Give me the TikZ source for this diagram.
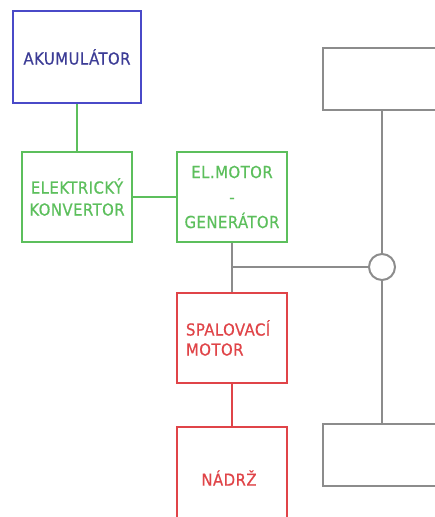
\documentclass[tikz,border=0pt]{standalone}
\usepackage{fontspec}
\setmainfont{DejaVu Sans Condensed}
\newfontfamily\blokfont[FakeBold=0.6, LetterSpace=3]{DejaVu Sans Condensed}
\definecolor{akublue}{HTML}{4A4AC8}
\definecolor{akutext}{HTML}{3C3C96}
\definecolor{elgreen}{HTML}{5CBF5C}
\definecolor{spalred}{HTML}{E04448}
\definecolor{osagray}{HTML}{8C8C8C}
\tikzset{
	blok/.style={draw, line width=2pt, fill=white, inner sep=0pt,
		minimum width=110pt, minimum height=90pt, font=\blokfont\fontsize{16.5}{22}\selectfont},
	osa/.style={draw=osagray, line width=2pt}
}
\begin{document}
\begin{tikzpicture}[x=1pt, y=-1pt]
	
	\useasboundingbox (0,0) rectangle (435,517);
	\clip (0,0) rectangle (435,517);
	
	%% ELECTRIC PART
	% Battery
	\node [blok, draw=akublue, text=akutext, minimum width=128pt, minimum height=92pt] (akum) at (77,57) {AKUMULÁTOR};
	% Converter
	\node [blok, draw=elgreen, text=elgreen, align=center] (konv) at (77,197) {ELEKTRICKÝ\\KONVERTOR};
	% Motor - generator
	\node [blok, draw=elgreen, text=elgreen, align=center, font=\blokfont\fontsize{16.5}{25}\selectfont] (motor) at (232,197) {EL.MOTOR\\-\\GENERÁTOR};
	
	%% COMBUSTION PART
	% Engine
	\node [blok, draw=spalred, text=spalred, align=left, font=\blokfont\fontsize{16.5}{20}\selectfont, text width=92pt] (spal) at (232,338) {SPALOVACÍ\\MOTOR};
	% Tank
	\node [blok, draw=spalred, text=spalred, minimum height=100pt] (nadrz) at (232,477) {};
	\node [text=spalred, font=\blokfont\fontsize{16.5}{20}\selectfont] (nadrzt) at (229,478) {NÁDRŽ};
	
	% Links
	\draw [elgreen, line width=2pt] (akum.south) -- (konv.north);
	\draw [elgreen, line width=2pt] (konv.east) -- (motor.west);
	\draw [osa] (motor.south) -- (spal.north);
	\draw [spalred, line width=2pt] (spal.south) -- (nadrz.north);
	
	%% AXLES
	\node [draw=osagray, line width=2pt, rectangle, minimum width=160pt, minimum height=62pt, inner sep=0pt] (predni) at (403,79) {};
	\node [draw=osagray, line width=2pt, rectangle, minimum width=160pt, minimum height=62pt, inner sep=0pt] (zadni) at (403,455) {};
	\node [draw=osagray, line width=2pt, circle, minimum size=26pt, inner sep=0pt] (kolo) at (382,267) {};
	\coordinate (odbocka) at (232,267);
	
	% Shafts
	\draw [osa] (odbocka) -- (kolo.west);
	\draw [osa] (kolo.north) -- (kolo.north |- predni.south);
	\draw [osa] (kolo.south) -- (kolo.south |- zadni.north);
	
\end{tikzpicture}
\end{document}
